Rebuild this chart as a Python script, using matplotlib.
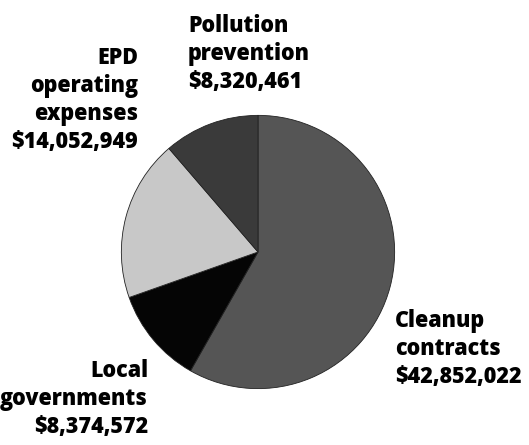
import matplotlib
matplotlib.use('Agg')
import matplotlib.pyplot as plt

labels = [['Cleanup', 'contracts'], ['Local', 'governments'],
          ['EPD', 'operating', 'expenses'], ['Pollution', 'prevention']]
amounts = [42852022, 8374572, 14052949, 8320461]
colors = ['#555555', '#050505', '#c8c8c8', '#3a3a3a']

plt.rcParams['font.family'] = ['Open Sans', 'DejaVu Sans']

W, H = 529, 445
fig = plt.figure(figsize=(W / 100, H / 100), dpi=100)
fig.patch.set_facecolor('white')

# pie centre and radius in pixels
cx, cy, r = 258, 252, 138
ax = fig.add_axes([(cx - r) / W, (H - cy - r) / H, 2 * r / W, 2 * r / H])
ax.pie(amounts, colors=colors, startangle=90, counterclock=False,
       wedgeprops=dict(edgecolor='#222222', linewidth=0.6))
ax.set_xlim(-1.01, 1.01)
ax.set_ylim(-1.01, 1.01)
ax.set_aspect('equal')
ax.axis('off')

# label anchor (x, first baseline) in pixels, alignment
anchors = [(395, 327, 'left'), (148, 377, 'right'), (138, 64, 'right'), (188, 32, 'left')]
pitch = 28

for lines, amt, (x, y0, ha) in zip(labels, amounts, anchors):
    for i, s in enumerate(lines + [f'${amt:,}']):
        fig.text(x / W, 1 - (y0 + i * pitch) / H, s, ha=ha, va='baseline',
                 fontsize=15.5, fontweight='heavy')

fig.savefig('out.png', dpi=100)
